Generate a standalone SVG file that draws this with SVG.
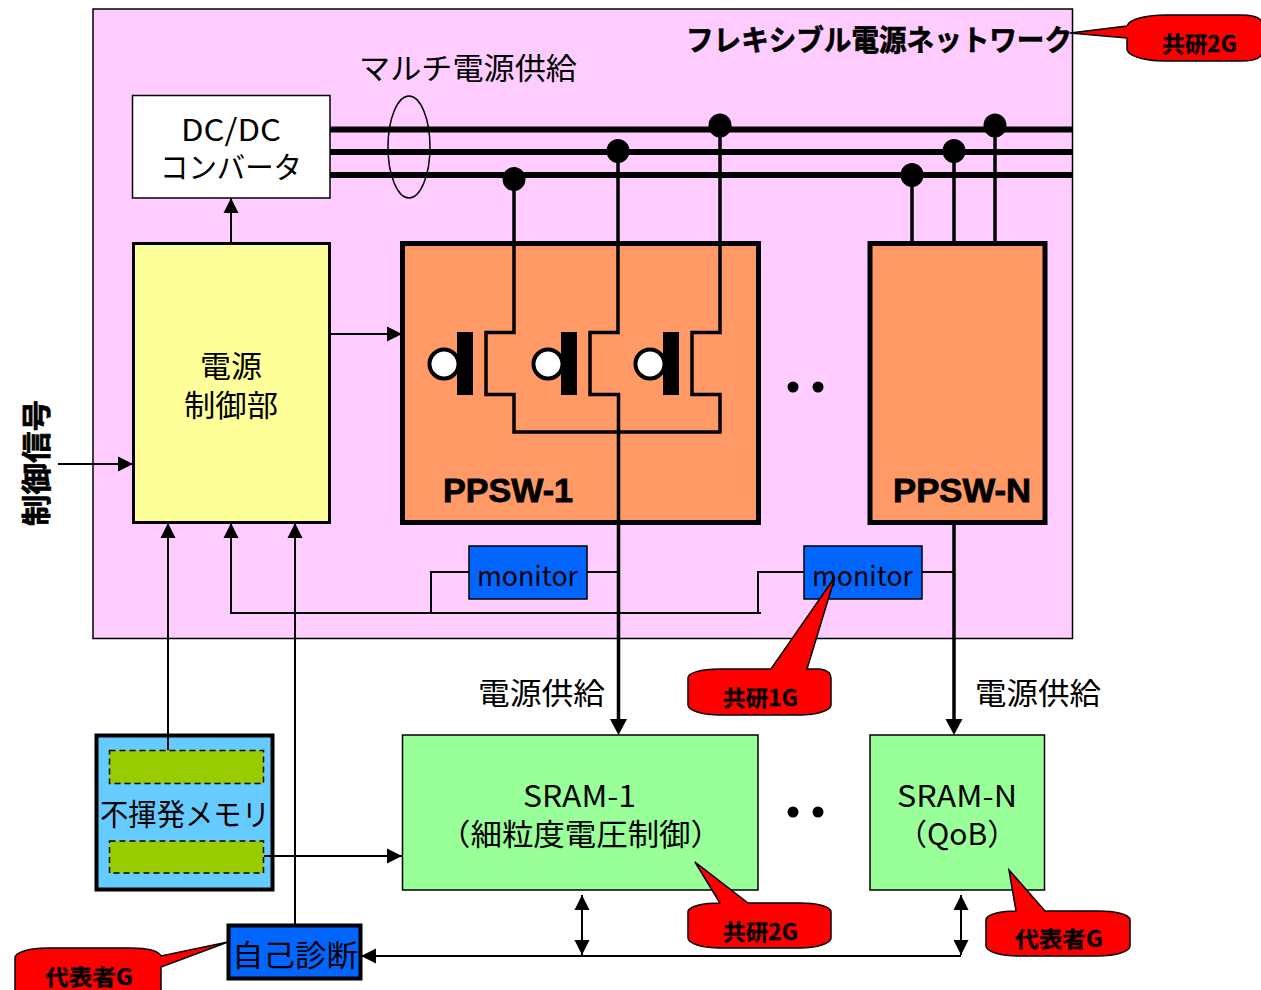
<svg xmlns="http://www.w3.org/2000/svg" width="1261" height="990" viewBox="0 0 1261 990">
<style>
text{font-family:"Noto Sans CJK JP","Noto Sans",sans-serif;fill:#000}
.t{font-size:30px}
.b{font-weight:700;stroke:#000;stroke-width:.6}
.c{font-size:22px;font-weight:700;stroke:#000;stroke-width:.3}
.p{font-family:"Liberation Sans",Arial,sans-serif;font-size:33px;font-weight:700;stroke:#000;stroke-width:.8}
.l{fill:none;stroke:#000;stroke-width:1.500}
.m{fill:none;stroke:#000;stroke-width:3.500}
.bus{fill:none;stroke:#000;stroke-width:6}
.call{fill:#f00;stroke:#000;stroke-width:1.500}
.arr{fill:none;stroke:#000;stroke-width:2}
</style>
<defs>
<marker id="a" markerUnits="userSpaceOnUse" markerWidth="17" markerHeight="17" refX="15" refY="8" orient="auto-start-reverse"><path d="M0,.5L15,8L0,15.500Z" fill="#000"/></marker>
</defs>
<rect width="1261" height="990" fill="#fff"/>
<g id="flex-network"><rect x="93" y="9" width="979.500" height="629.500" fill="#ffccff" stroke="#000" stroke-width="1.500"/>
<text class="b" x="686" y="51" font-size="29" textLength="386" lengthAdjust="spacingAndGlyphs">フレキシブル電源ネットワーク</text></g>
<text class="t" x="359" y="79" textLength="218" lengthAdjust="spacingAndGlyphs">マルチ電源供給</text>
<g id="dcdc"><rect x="132.500" y="95.500" width="197.500" height="102.500" fill="#fff" stroke="#000" stroke-width="1.500"/>
<text class="t" x="181" y="141" textLength="100" lengthAdjust="spacingAndGlyphs">DC/DC</text>
<text class="t" x="160" y="178" textLength="142" lengthAdjust="spacingAndGlyphs">コンバータ</text></g>
<g id="controller"><rect x="133.500" y="243.500" width="196" height="279" fill="#ffff99" stroke="#000" stroke-width="3"/>
<text class="t" x="200" y="377" textLength="62" lengthAdjust="spacingAndGlyphs">電源</text>
<text class="t" x="184" y="416" textLength="94" lengthAdjust="spacingAndGlyphs">制御部</text></g>
<g id="ppsw-1"><rect x="402.500" y="243.500" width="356" height="279" fill="#ff9966" stroke="#000" stroke-width="5"/>
<text class="p" x="443" y="502" textLength="130" lengthAdjust="spacingAndGlyphs">PPSW-1</text></g>
<g id="ppsw-n"><rect x="870" y="243.500" width="175" height="279" fill="#ff9966" stroke="#000" stroke-width="5"/>
<text class="p" x="893" y="502" textLength="138" lengthAdjust="spacingAndGlyphs">PPSW-N</text></g>
<g id="monitor-1"><rect x="469" y="546" width="118" height="53" fill="#0066ff" stroke="#000" stroke-width="1.500"/>
<text x="477" y="586" textLength="101" lengthAdjust="spacingAndGlyphs" style="font-size:28px">monitor</text></g>
<g id="monitor-n"><rect x="804" y="546" width="118" height="53" fill="#0066ff" stroke="#000" stroke-width="1.500"/>
<text x="812" y="586" textLength="101" lengthAdjust="spacingAndGlyphs" style="font-size:28px">monitor</text></g>
<g id="sram-1"><rect x="402.500" y="735" width="355.500" height="155" fill="#99ff99" stroke="#000" stroke-width="1.500"/>
<text class="t" x="523" y="807" textLength="113" lengthAdjust="spacingAndGlyphs">SRAM-1</text>
<text class="t" x="439" y="845" textLength="283" lengthAdjust="spacingAndGlyphs">（細粒度電圧制御）</text></g>
<g id="sram-n"><rect x="870" y="735" width="174.500" height="155" fill="#99ff99" stroke="#000" stroke-width="1.500"/>
<text class="t" x="897" y="807" textLength="120" lengthAdjust="spacingAndGlyphs">SRAM-N</text>
<text class="t" x="897" y="845">（QoB）</text></g>
<g id="nvm"><rect x="96.500" y="735.500" width="176" height="154" fill="#66ccff" stroke="#000" stroke-width="4"/>
<rect x="109.500" y="750.500" width="154" height="33" fill="#99cc00" stroke="#000" stroke-width="1.500" stroke-dasharray="6 4"/>
<rect x="109.500" y="841" width="154" height="32" fill="#99cc00" stroke="#000" stroke-width="1.500" stroke-dasharray="6 4"/>
<text class="t" x="100" y="825" textLength="170" lengthAdjust="spacingAndGlyphs">不揮発メモリ</text></g>
<g id="diagnosis"><rect x="228.500" y="925.500" width="132" height="53" fill="#0066ff" stroke="#000" stroke-width="4"/>
<text class="t" x="232" y="966" textLength="126" lengthAdjust="spacingAndGlyphs">自己診断</text></g>
<g id="connectors">
<ellipse cx="409" cy="147" rx="21" ry="51" class="l"/>
<path class="bus" d="M330,129.500H1073M330,152H1073M330,175H1073"/>
<g fill="#000"><ellipse cx="514" cy="179" rx="11.500" ry="12"/><ellipse cx="618" cy="151" rx="11.500" ry="12"/><ellipse cx="720" cy="125.500" rx="11.500" ry="12"/><ellipse cx="912" cy="175" rx="11.500" ry="12"/><ellipse cx="954" cy="151" rx="11.500" ry="12"/><ellipse cx="995" cy="125.500" rx="11.500" ry="12"/></g>
<path class="m" d="M514,179V332.500H486V394.500H514V432H720V394.500H692V332.500H720V125M618,151V332.500H590V394.500H618.500V725M912,175V243M954,151V243M995,125V243M954,523V725"/>
<g fill="#000"><rect x="457" y="332" width="16" height="63"/><rect x="561" y="332" width="16" height="63"/><rect x="663" y="332" width="16" height="63"/></g>
<g fill="#fff" stroke="#000" stroke-width="4"><circle cx="444" cy="364" r="14.500"/><circle cx="548" cy="364" r="14.500"/><circle cx="650" cy="364" r="14.500"/></g>
<g fill="#000"><circle cx="793" cy="387" r="5.500"/><circle cx="818" cy="387" r="5.500"/><circle cx="793" cy="812" r="5.500"/><circle cx="818" cy="812" r="5.500"/></g>
<path class="arr" d="M231,243V198" marker-end="url(#a)"/>
<path class="arr" d="M331,334H402" marker-end="url(#a)"/>
<path class="arr" d="M58,464H133" marker-end="url(#a)"/>
<path class="arr" d="M168,750V523" marker-end="url(#a)"/>
<path class="arr" d="M295,925V523" marker-end="url(#a)"/>
<path class="arr" d="M761,613H231V523" marker-end="url(#a)"/>
<path class="arr" d="M431,613V572H469M587,572H618M758,613V572H804M922,572H954"/>
<path class="arr" d="M264,856H402" marker-end="url(#a)"/>
<path class="arr" d="M961,956H361" marker-end="url(#a)"/>
<path class="arr" d="M582,895V955" marker-start="url(#a)" marker-end="url(#a)"/>
<path class="arr" d="M961,895V955" marker-start="url(#a)" marker-end="url(#a)"/>
<path d="M610,719H627L618.500,735ZM945.500,719H962.500L954,735Z" fill="#000"/>
</g>
<text class="t" x="478" y="704" textLength="127" lengthAdjust="spacingAndGlyphs">電源供給</text>
<text class="t" x="975" y="704" textLength="126" lengthAdjust="spacingAndGlyphs">電源供給</text>
<text class="t b" transform="translate(47,526) rotate(-90)" x="0" y="0" textLength="126" lengthAdjust="spacingAndGlyphs">制御信号</text>
<g id="callout-top"><path class="call" d="M1070,33L1127,26C1130,18 1150,15 1165,15H1240C1255,15 1262,18 1262,24V52C1262,58 1255,61 1240,61H1165C1150,61 1130,58 1127,50V38Z"/>
<text class="c" x="1162" y="52" textLength="75" lengthAdjust="spacingAndGlyphs">共研2G</text></g>
<g id="callout-1g"><path class="call" d="M835,577L807,669H820C826,670 831,673 831,678V705C831,711 815,715 800,715H720C704,715 688,711 688,705V678C688,673 700,669 720,669H771Z"/>
<text class="c" x="723" y="706" textLength="75" lengthAdjust="spacingAndGlyphs">共研1G</text></g>
<g id="callout-2g"><path class="call" d="M695,862L748,903H800C815,903 831,906 831,912V938C831,944 815,948 800,948H720C704,948 688,944 688,938V912C688,906 704,903 720,903Z"/>
<text class="c" x="723" y="940" textLength="75" lengthAdjust="spacingAndGlyphs">共研2G</text></g>
<g id="callout-daihyo"><path class="call" d="M1009,870L1045,911H1098C1114,911 1130,914 1130,920V946C1130,952 1114,956 1098,956H1018C1002,956 986,952 986,946V920C986,914 1002,911 1016,911Z"/>
<text class="c" x="1015" y="947" textLength="88" lengthAdjust="spacingAndGlyphs">代表者G</text></g>
<g id="callout-diag"><path class="call" d="M228,942L161,956C158,950 145,948 130,948H47C30,948 15,952 15,958V995H161V967Z"/>
<text class="c" x="45" y="985" textLength="88" lengthAdjust="spacingAndGlyphs">代表者G</text></g>
</svg>
